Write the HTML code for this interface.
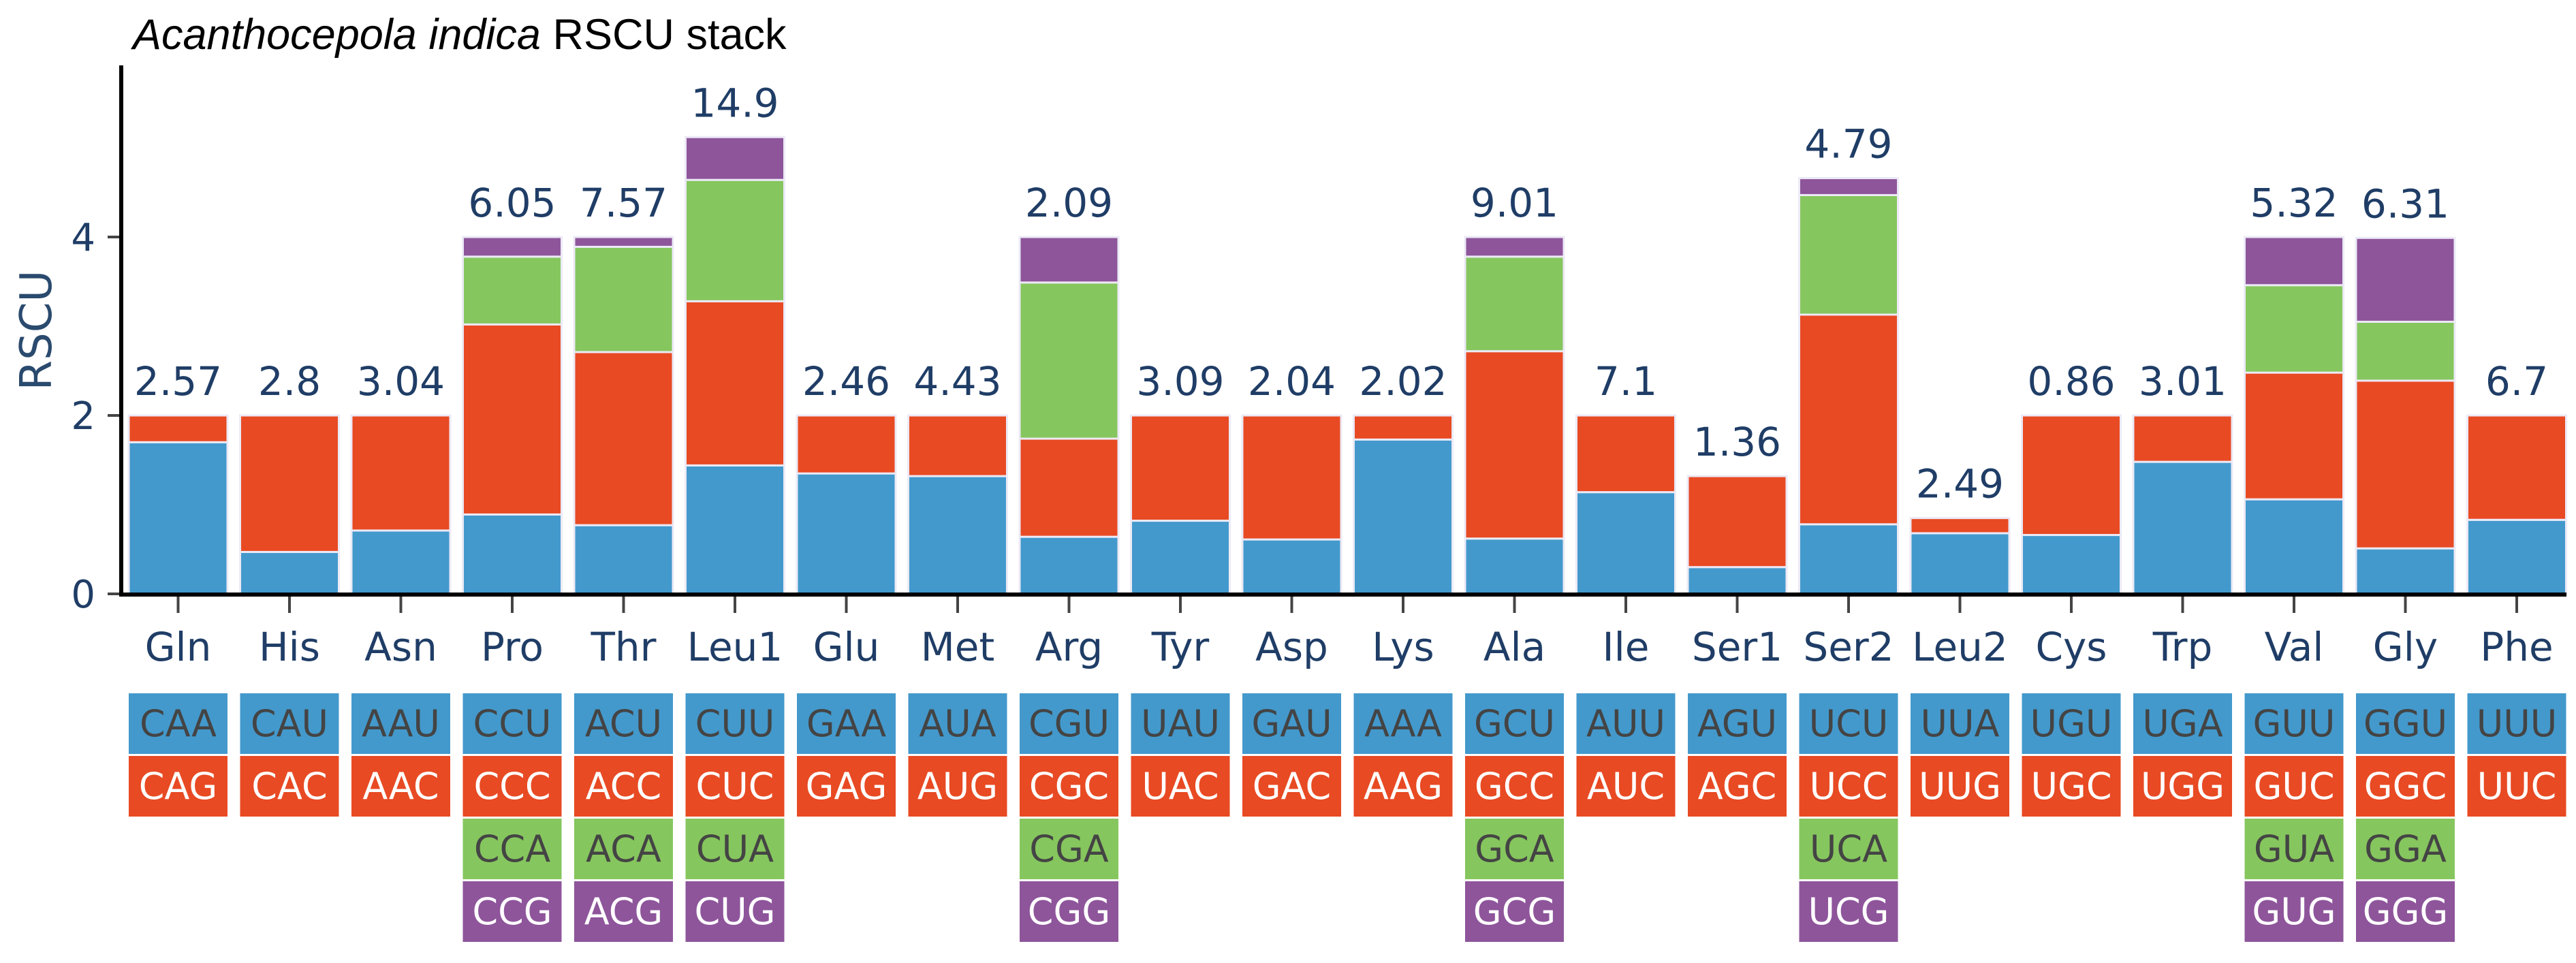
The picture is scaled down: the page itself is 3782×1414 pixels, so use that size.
<!DOCTYPE html>
<html><head><meta charset="utf-8"><style>
html,body{margin:0;padding:0;background:#fff;}
svg{display:block;}
</style></head><body>
<svg id="chart" width="3782" height="1414" viewBox="0 0 3782 1414" xmlns="http://www.w3.org/2000/svg">
<text x="195" y="72" font-family="Liberation Sans, sans-serif" font-size="63" fill="#000"><tspan font-style="italic">Acanthocepola indica</tspan> RSCU stack</text>
<text transform="translate(75,485) rotate(-90)" text-anchor="middle" font-family="DejaVu Sans, sans-serif" font-size="64" fill="#2a4a6e">RSCU</text>
<g id="plot"></g>
</svg>
<script>
const categories = ["Gln","His","Asn","Pro","Thr","Leu1","Glu","Met","Arg","Tyr","Asp","Lys","Ala","Ile","Ser1","Ser2","Leu2","Cys","Trp","Val","Gly","Phe"];
const totals = ["2.57","2.8","3.04","6.05","7.57","14.9","2.46","4.43","2.09","3.09","2.04","2.02","9.01","7.1","1.36","4.79","2.49","0.86","3.01","5.32","6.31","6.7"];
const seriesBlue   = [1.70,0.47,0.71,0.89,0.77,1.44,1.35,1.32,0.64,0.82,0.61,1.73,0.62,1.14,0.30,0.78,0.68,0.66,1.48,1.06,0.51,0.83];
const seriesRed    = [0.30,1.53,1.29,2.13,1.94,1.84,0.65,0.68,1.10,1.18,1.39,0.27,2.10,0.86,1.02,2.35,0.17,1.34,0.52,1.42,1.88,1.17];
const seriesGreen  = [0,0,0,0.76,1.18,1.36,0,0,1.75,0,0,0,1.06,0,0,1.34,0,0,0,0.98,0.66,0];
const seriesPurple = [0,0,0,0.22,0.11,0.48,0,0,0.51,0,0,0,0.22,0,0,0.19,0,0,0,0.54,0.94,0];
const codons = [["CAA","CAG"],["CAU","CAC"],["AAU","AAC"],["CCU","CCC","CCA","CCG"],["ACU","ACC","ACA","ACG"],["CUU","CUC","CUA","CUG"],["GAA","GAG"],["AUA","AUG"],["CGU","CGC","CGA","CGG"],["UAU","UAC"],["GAU","GAC"],["AAA","AAG"],["GCU","GCC","GCA","GCG"],["AUU","AUC"],["AGU","AGC"],["UCU","UCC","UCA","UCG"],["UUA","UUG"],["UGU","UGC"],["UGA","UGG"],["GUU","GUC","GUA","GUG"],["GGU","GGC","GGA","GGG"],["UUU","UUC"]];
const yTicks = [0,2,4];

const NS="http://www.w3.org/2000/svg";
const g=document.getElementById('plot');
const colors=["#4399cc","#e84a23","#86c65e","#8e559b"];
const textCols=["#444","#fff","#444","#fff"];
const series=[seriesBlue,seriesRed,seriesGreen,seriesPurple];
const x0=189, pitch=163.5, bw=145;
function xPos(i){return x0+i*pitch;}
function yPos(v){return 872-v*131;}
function el(tag,attrs){const e=document.createElementNS(NS,tag);for(const k in attrs)e.setAttribute(k,attrs[k]);g.appendChild(e);return e;}

for(let i=0;i<categories.length;i++){
  let base=0;
  for(let s=0;s<4;s++){
    const v=series[s][i];
    if(v<=0) continue;
    const r=el('rect',{x:xPos(i),y:yPos(base+v),width:bw,height:v*131,fill:colors[s],stroke:"#eceaf6","stroke-width":3});
    
    
    base+=v;
  }
  const t=el('text',{x:xPos(i)+bw/2,y:yPos(base)-30,"text-anchor":"middle","font-family":"DejaVu Sans, sans-serif","font-size":58,fill:"#1f3d66"});
  t.textContent=totals[i];
  
  
  const tk=el('line',{x1:xPos(i)+bw/2,x2:xPos(i)+bw/2,y1:876,y2:900,stroke:"#444","stroke-width":4});
  
  
  const c=el('text',{x:xPos(i)+bw/2,y:970,"text-anchor":"middle","font-family":"DejaVu Sans, sans-serif","font-size":58,fill:"#1f3d66"});
  c.textContent=categories[i];
  
  
  for(let k=0;k<codons[i].length;k++){
    const by=1018+k*92;
    const b=el('rect',{x:xPos(i),y:by,width:bw,height:89,fill:colors[k]});
    
    
    const ct=el('text',{x:xPos(i)+bw/2,y:by+63,"text-anchor":"middle","font-family":"DejaVu Sans, sans-serif","font-size":54,fill:textCols[k]});
    ct.textContent=codons[i][k];
    
    
  }
}
for(const v of yTicks){
  const l=el('line',{x1:158,x2:178,y1:yPos(v),y2:yPos(v),stroke:"#444","stroke-width":4});
  
  
  const t=el('text',{x:140,y:yPos(v)+20,"text-anchor":"end","font-family":"DejaVu Sans, sans-serif","font-size":56,fill:"#1f3d66"});
  t.textContent=v;
  
  
}
const ya=el('line',{x1:178,x2:178,y1:96,y2:875,stroke:"#000","stroke-width":6});


const xa=el('line',{x1:175,x2:3768,y1:873,y2:873,stroke:"#000","stroke-width":6});


</script>
</body></html>
